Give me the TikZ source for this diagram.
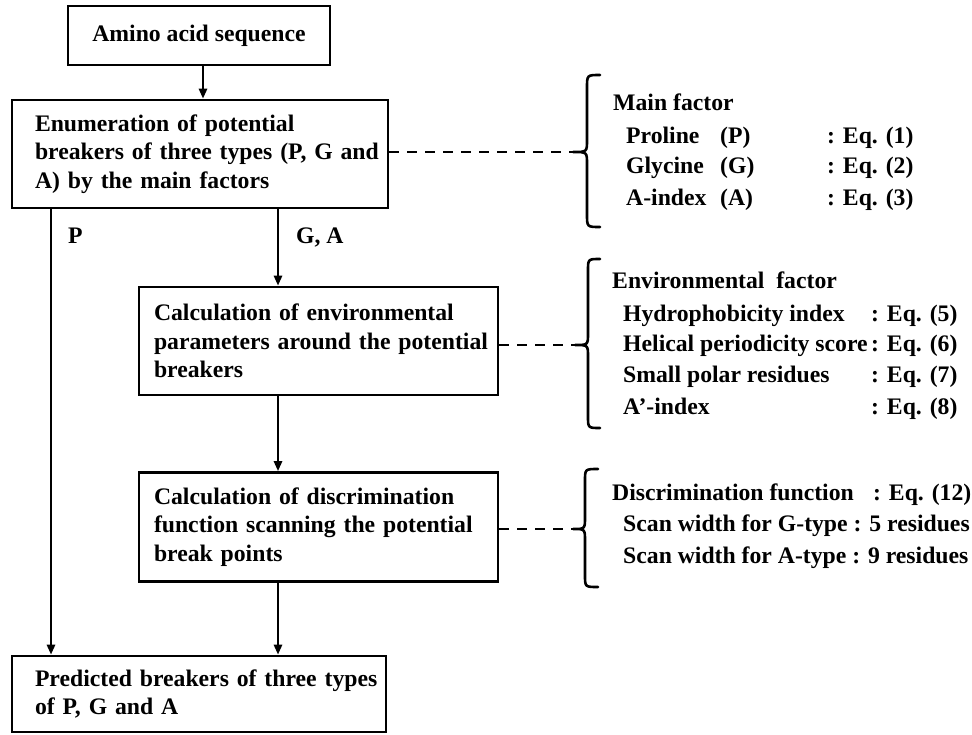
\documentclass[tikz,border=0pt]{standalone}
\usepackage{fontspec}
\setmainfont{Liberation Serif}
\usetikzlibrary{arrows.meta}
\begin{document}
\begin{tikzpicture}[x=1pt,y=-1pt,
  txt/.style={font=\fontsize{23.7}{28.5}\selectfont\bfseries},
  box/.style={txt,draw,line width=2.6pt,rectangle,inner xsep=0pt,inner ysep=0pt,align=left},
  arr/.style={line width=2.6pt,-{Triangle[length=10pt,width=8pt]}},
  dsh/.style={line width=2.8pt,dash pattern=on 10pt off 8pt},
  brc/.style={line width=2.6pt,line cap=round},
  lbl/.style={txt,anchor=base west,inner sep=0pt}]
\useasboundingbox (0,0) rectangle (972,734);
% boxes
\node[box,minimum width=262pt,minimum height=59pt,align=center] (b1) at (199,35.5) {Amino acid sequence};
\node[box,minimum width=376pt,minimum height=108pt,text width=330pt] (b2) at (200,154)
  {\mbox{Enumeration of potential}\\\mbox{breakers of three types (P, G and}\\\mbox{A) by the main factors}};
\node[box,minimum width=359pt,minimum height=108pt,text width=329pt] (b3) at (318.5,341)
  {\mbox{Calculation of environmental}\\\mbox{parameters around the potential}\\\mbox{breakers}};
\node[box,minimum width=359pt,minimum height=109pt,text width=329pt] (b4) at (318.5,527)
  {\mbox{Calculation of discrimination}\\\mbox{function scanning the potential}\\\mbox{break points}};
\node[box,minimum width=374pt,minimum height=76pt,text width=328pt] (b5) at (199,694)
  {\mbox{Predicted breakers of three types}\\\mbox{of P, G and A}};
% x positions of the vertical connectors
\coordinate (ax) at (203,0);
\coordinate (lx) at (51,0);
\coordinate (mx) at (278,0);
% connectors
\draw[arr] (b1.south -| ax) -- (b2.north -| ax);
\draw[arr] (b2.south -| lx) -- (b5.north -| lx);
\draw[arr] (b2.south -| mx) -- (b3.north -| mx);
\draw[arr] (b3.south -| mx) -- (b4.north -| mx);
\draw[arr] (b4.south -| mx) -- (b5.north -| mx);
\node[lbl] (lp) at (68,243) {P};
\node[lbl] (lga) at (296,243) {G, A};
% brace tips
\coordinate (t1) at (573,152);
\coordinate (t2) at (575,345);
\coordinate (t3) at (573,529);
\draw[dsh] (t1 -| b2.east) -- (t1);
\draw[dsh] (t2 -| b3.east) -- (t2);
\draw[dsh] (t3 -| b4.east) -- (t3);
% braces
\draw[brc] (600,75) .. controls (587,75) .. (587,88) -- (587,140) .. controls (587,152) .. (t1)
  .. controls (587,152) .. (587,164) -- (587,214) .. controls (587,227) .. (600,227);
\draw[brc] (600,259) .. controls (588,259) .. (588,271) -- (588,333) .. controls (588,345) .. (t2)
  .. controls (588,345) .. (588,357) -- (588,416) .. controls (588,428) .. (600,428);
\draw[brc] (598,469) .. controls (585,469) .. (585,481) -- (585,517) .. controls (585,529) .. (t3)
  .. controls (585,529) .. (585,541) -- (585,575) .. controls (585,587) .. (598,587);
% main factor
\node[lbl] (m0) at (613,110) {Main factor};
\node[lbl] (m1) at (626,143) {Proline};
\node[lbl] (m1b) at (720,143) {(P)};
\node[lbl] (m1c) at (827,143) {: Eq. (1)};
\node[lbl] (m2) at (626,173) {Glycine};
\node[lbl] (m2b) at (720,173) {(G)};
\node[lbl] (m2c) at (827,173) {: Eq. (2)};
\node[lbl] (m3) at (626,205) {A-index};
\node[lbl] (m3b) at (720,205) {(A)};
\node[lbl] (m3c) at (827,205) {: Eq. (3)};
% environmental factor
\node[lbl] (e0) at (612,288) {Environmental\ \ factor};
\node[lbl] (e1) at (623,321) {Hydrophobicity index};
\node[lbl] (e1c) at (871,321) {: Eq. (5)};
\node[lbl] (e2) at (623,351) {Helical periodicity score};
\node[lbl] (e2c) at (871,351) {: Eq. (6)};
\node[lbl] (e3) at (623,382) {Small polar residues};
\node[lbl] (e3c) at (871,382) {: Eq. (7)};
\node[lbl] (e4) at (623,414) {A’-index};
\node[lbl] (e4c) at (871,414) {: Eq. (8)};
% discrimination
\node[lbl] (d0) at (612,500) {Discrimination function};
\node[lbl] (d0c) at (873,500) {: Eq. (12)};
\node[lbl] (d1) at (623,531) {Scan width for G-type : 5 residues};
\node[lbl] (d2) at (623,563) {Scan width for A-type : 9 residues};
\end{tikzpicture}
\end{document}
